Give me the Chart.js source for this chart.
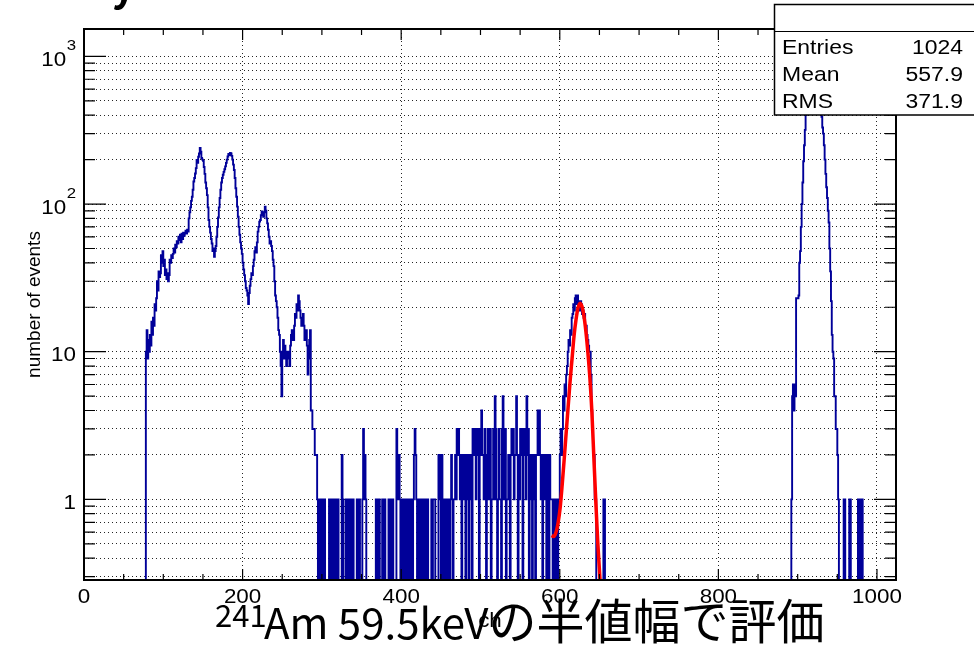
<!DOCTYPE html>
<html>
<head>
<meta charset="utf-8">
<title>241Am 59.5keV spectrum</title>
<script src="https://cdn.jsdelivr.net/npm/chart.js@4.4.1/dist/chart.umd.min.js"></script>
<style>
  html, body { margin: 0; padding: 0; background: #fff; }
  #wrap { width: 974px; height: 649px; }
</style>
</head>
<body>
<div id="wrap"><canvas id="spec" width="974" height="649"></canvas></div>
<script>
// ---------- counts per channel ----------
// low-energy structure (ch 78 .. 292)
const lowStart = 78;
const lowCounts = [
  10, 14, 9, 12, 10, 13, 11, 16, 13, 17,
  15, 21, 19, 23, 30, 26, 35, 32, 34, 45,
  40, 48, 38, 42, 33, 36, 31, 34, 30, 33,
  42, 40, 45, 43, 46, 50, 47, 53, 51, 56,
  54, 60, 57, 62, 55, 63, 58, 64, 61, 64,
  66, 63, 67, 65, 80, 88, 95, 105, 112, 125,
  142, 150, 161, 175, 199, 190, 209, 220, 240, 226,
  205, 200, 196, 178, 160, 140, 128, 115, 95, 78,
  70, 64, 58, 54, 48, 50, 44, 48, 52, 60,
  70, 81, 95, 110, 125, 140, 150, 158, 165, 172,
  180, 190, 200, 210, 218, 215, 222, 220, 212, 200,
  185, 170, 150, 128, 112, 96, 82, 70, 62, 55,
  50, 46, 40, 36, 33, 30, 27, 26, 24, 21,
  25, 28, 31, 34, 33, 38, 42, 48, 51, 47,
  55, 65, 70, 76, 78, 84, 89, 85, 82, 88,
  96, 90, 80, 74, 67, 60, 54, 56, 52, 48,
  42, 38, 30, 24, 22, 20, 17, 14, 13, 10,
  8, 5, 10, 12, 9, 11, 10, 8, 9, 10,
  9, 8, 11, 13, 14, 12, 12, 15, 18, 17,
  21, 19, 24, 22, 19, 17, 15, 16, 18, 15,
  12, 13, 14, 11, 7, 9, 12, 14, 4, 4,
  3, 3, 3, 2, 2
];
// flat background (ch 293 .. 597)
const flatStart = 293;
const flatCounts = [
  2, 1, 0, 1, 0, 1, 1, 0, 1, 0,
  1, 0, 0, 0, 0, 0, 1, 0, 1, 0,
  1, 0, 0, 1, 0, 1, 0, 1, 0, 0,
  0, 0, 2, 1, 0, 0, 0, 1, 0, 1,
  0, 1, 0, 1, 0, 1, 1, 0, 0, 0,
  0, 1, 0, 1, 1, 0, 0, 0, 1, 3,
  1, 2, 1, 0, 0, 0, 0, 0, 0, 0,
  0, 0, 0, 0, 0, 1, 0, 1, 0, 1,
  0, 0, 0, 1, 0, 1, 1, 0, 0, 0,
  0, 1, 0, 1, 0, 1, 1, 0, 0, 0,
  0, 3, 2, 1, 2, 1, 0, 0, 1, 0,
  1, 1, 0, 1, 0, 0, 1, 0, 1, 1,
  0, 0, 1, 2, 3, 2, 1, 0, 1, 0,
  0, 1, 0, 1, 1, 0, 1, 0, 1, 0,
  1, 0, 0, 0, 0, 1, 0, 1, 1, 1,
  0, 0, 0, 0, 2, 1, 2, 0, 2, 1,
  0, 1, 1, 0, 1, 0, 1, 1, 0, 1,
  2, 1, 0, 1, 1, 2, 1, 3, 2, 3,
  2, 1, 2, 0, 2, 1, 2, 2, 0, 1,
  2, 2, 0, 2, 1, 2, 0, 3, 2, 3,
  3, 1, 3, 2, 3, 0, 2, 3, 4, 2,
  2, 1, 3, 2, 0, 2, 3, 1, 1, 3,
  0, 1, 1, 3, 1, 5, 3, 1, 0, 1,
  3, 1, 1, 0, 3, 5, 1, 1, 3, 0,
  1, 1, 2, 2, 0, 2, 3, 2, 3, 1,
  2, 2, 5, 2, 0, 2, 1, 3, 2, 3,
  0, 2, 3, 2, 1, 5, 2, 3, 0, 2,
  1, 2, 0, 2, 1, 2, 0, 2, 2, 4,
  2, 4, 2, 1, 2, 0, 2, 2, 1, 2,
  0, 2, 1, 0, 2, 1, 1, 1, 0, 1,
  1, 0, 1, 1, 0
];
// 241Am 59.5 keV peak (ch 598 .. 657)
const amStart = 598;
const amCounts = [
  1, 1, 2, 3, 2, 3, 5, 4, 6, 5,
  7, 8, 10, 12, 11, 14, 13, 17, 18, 21,
  19, 23, 24, 21, 24, 20, 22, 19, 22, 21,
  18, 19, 17, 18, 14, 15, 13, 12, 11, 10,
  10, 7, 4, 3, 2, 2, 1, 1, 0, 0,
  0, 0, 0, 0, 0, 0, 0, 1, 1, 0
];
// high-channel peak (ch 892 .. 981), top hidden under the stats box
const highStart = 892;
const highCounts = [
  1, 5, 6, 4, 6, 5, 23, 23, 23, 24,
  40, 48, 70, 100, 140, 195, 250, 318, 400, 480,
  560, 650, 740, 820, 890, 950, 990, 1010, 1020, 1000,
  970, 920, 860, 780, 700, 600, 520, 440, 390, 330,
  300, 250, 200, 160, 130, 110, 90, 75, 50, 35,
  22, 13, 10, 9, 5, 5, 3, 3, 2, 1,
  0, 0, 0, 0, 0, 0, 1, 1, 0, 0,
  0, 0, 0, 1, 1, 0, 0, 0, 0, 0,
  0, 0, 0, 0, 1, 1, 0, 0, 1, 1
];

// red fit curve
const fitCh = [589.7, 592, 594, 596, 598, 600.5, 603, 605.5, 608, 610.5, 613, 615.5, 618,
  620.5, 623, 625.5, 628, 630.5, 633, 635.5, 638, 640.5, 643, 645.5, 648, 650.5, 653];
const fitValue = [0.57, 0.56, 0.575, 0.62, 0.70, 0.88, 1.25, 1.85, 2.8, 4.2, 6.3, 9.0, 12.8,
  16.5, 19.8, 21.3, 20.2, 17.4, 13.6, 9.8, 6.6, 3.9, 1.9, 0.95, 0.5, 0.3, 0.2];

// axes
const N_CH = 1024;
const Y_MIN = 0.2846;
const Y_MAX = 1532;
const xTickValues = [0, 200, 400, 600, 800, 1000];
const xTickLabels = ['0', '200', '400', '600', '800', '1000'];
const yTickValues = [1, 10, 100, 1000];
const yTickBase = ['1', '10', '10', '10'];
const yTickExp = ['', '', '2', '3'];

// stats box
const statNames = ['Entries', 'Mean', 'RMS'];
const statValues = ['1024', '557.9', '371.9'];

// ---------- build the histogram ----------
const bins = new Array(N_CH).fill(0);
[[lowStart, lowCounts], [flatStart, flatCounts], [amStart, amCounts], [highStart, highCounts]]
  .forEach(([s, arr]) => arr.forEach((v, i) => { bins[s + i] = v; }));

// empty bins fall below the frame, like ROOT does on a log axis
const FLOOR = 0.01;
const histPoints = bins.map((v, i) => ({ x: i, y: v > 0 ? v : FLOOR }));
histPoints.push({ x: N_CH, y: histPoints[N_CH - 1].y });

// grid at 1..9 x 10^n
const yGrid = [];
for (let e = -1; e <= 3; e++) {
  for (let m = 1; m <= 9; m++) {
    const v = m * Math.pow(10, e);
    if (v >= Y_MIN && v <= Y_MAX) yGrid.push(v);
  }
}
const isDecade = (v) => Math.abs(Math.log10(v) - Math.round(Math.log10(v))) < 1e-9;

const FONT = '"Liberation Sans", Arial, Helvetica, sans-serif';
const JP = '"Noto Sans CJK JP", "Noto Sans", sans-serif';
const SX = 1.12; // the ROOT picture is a bit wider than tall

function rootText(ctx, str, x, y, size, align) {
  ctx.save();
  ctx.font = size + 'px ' + FONT;
  ctx.textAlign = align;
  ctx.textBaseline = 'alphabetic';
  ctx.translate(x, y);
  ctx.scale(SX, 1);
  ctx.fillText(str, 0, 0);
  const w = ctx.measureText(str).width * SX;
  ctx.restore();
  return w;
}

// ---------- frame, inside ticks, labels, stats box ----------
const rootFrame = {
  id: 'rootFrame',
  afterDatasetsDraw(chart) {
    const { ctx, chartArea: a, scales: { x, y } } = chart;
    ctx.save();
    ctx.strokeStyle = '#000';
    ctx.lineWidth = 1.2;
    ctx.beginPath();
    for (let v = 0; v <= N_CH; v += 50) {
      const px = x.getPixelForValue(v);
      const len = v % 200 === 0 ? 11 : 6;
      ctx.moveTo(px, a.bottom); ctx.lineTo(px, a.bottom - len);
      ctx.moveTo(px, a.top); ctx.lineTo(px, a.top + len);
    }
    yGrid.forEach((v) => {
      const py = y.getPixelForValue(v);
      const len = isDecade(v) ? 22 : 11;
      ctx.moveTo(a.left, py); ctx.lineTo(a.left + len, py);
      ctx.moveTo(a.right, py); ctx.lineTo(a.right - len, py);
    });
    ctx.stroke();
    ctx.lineWidth = 2;
    ctx.strokeRect(a.left, a.top, a.right - a.left, a.bottom - a.top);
    ctx.restore();
  },
  afterDraw(chart) {
    const { ctx, chartArea: a, scales: { x, y } } = chart;
    ctx.save();
    ctx.fillStyle = '#000';

    // tick labels
    xTickValues.forEach((v, i) => rootText(ctx, xTickLabels[i], x.getPixelForValue(v), a.bottom + 22.5, 20, 'center'));
    yTickValues.forEach((v, i) => {
      const py = y.getPixelForValue(v);
      let right = 76;
      if (yTickExp[i]) right -= rootText(ctx, yTickExp[i], 76, py - 6, 15, 'right') + 0.5;
      rootText(ctx, yTickBase[i], right, py + 9.5, 20, 'right');
    });

    // axis titles
    rootText(ctx, 'ch', (a.left + a.right) / 2, 627, 20, 'center');
    ctx.save();
    ctx.translate(40, (a.top + a.bottom) / 2);
    ctx.rotate(-Math.PI / 2);
    ctx.font = '19px ' + FONT;
    ctx.textAlign = 'center';
    ctx.textBaseline = 'alphabetic';
    ctx.fillText('number of events', 0, 0);
    ctx.restore();

    // stats box
    ctx.fillStyle = '#fff';
    ctx.fillRect(774, 4, 210, 111);
    ctx.strokeStyle = '#000';
    ctx.lineWidth = 1.5;
    ctx.strokeRect(774.5, 4.5, 210, 110.5);
    ctx.beginPath();
    ctx.moveTo(774, 31.5); ctx.lineTo(974, 31.5);
    ctx.lineWidth = 1;
    ctx.stroke();
    ctx.fillStyle = '#000';
    statNames.forEach((name, i) => {
      const base = 54 + i * 27.2;
      rootText(ctx, name, 782, base, 20.5, 'left');
      rootText(ctx, statValues[i], 963, base, 20.5, 'right');
    });

    // slide caption over the axis
    ctx.textAlign = 'left';
    ctx.textBaseline = 'alphabetic';
    ctx.font = '31px ' + JP;
    ctx.fillText('241', 215, 627);
    ctx.font = '42px ' + JP;
    const latin = 'Am 59.5keV';
    ctx.fillText(latin, 264, 639);
    const cjkX = 264 + ctx.measureText(latin).width;
    ctx.font = '48px ' + JP;
    ctx.fillText('の半値幅で評価', cjkX, 639);

    // cut-off slide title glyph at the very top
    ctx.font = 'bold 40px ' + JP;
    ctx.fillText('y', 112, 0);
    ctx.restore();
  }
};

// ---------- chart ----------
const gridStyle = { color: 'rgba(0,0,0,0.85)', lineWidth: 1, drawTicks: false };
new Chart(document.getElementById('spec'), {
  type: 'line',
  data: {
    datasets: [
      {
        label: 'fit',
        data: fitCh.map((c, i) => ({ x: c, y: fitValue[i] })),
        borderColor: '#ff0000',
        borderWidth: 3.5,
        pointRadius: 0,
        cubicInterpolationMode: 'monotone',
        clip: 0,
        order: 0,
      },
      {
        label: 'counts',
        data: histPoints,
        stepped: true,
        borderColor: '#000099',
        borderWidth: 1.9,
        pointRadius: 0,
        clip: 0,
        order: 1,
      },
    ],
  },
  options: {
    responsive: false,
    animation: false,
    devicePixelRatio: 1,
    layout: { padding: { top: 29, right: 78, left: 0, bottom: 0 } },
    plugins: { legend: { display: false }, tooltip: { enabled: false } },
    scales: {
      x: {
        type: 'linear',
        min: 0,
        max: N_CH,
        afterBuildTicks: (s) => { s.ticks = xTickValues.map((v) => ({ value: v })); },
        afterFit: (s) => { s.height = 69; },
        ticks: { display: false },
        grid: gridStyle,
        border: { display: false, dash: [1, 3] },
      },
      y: {
        type: 'logarithmic',
        min: Y_MIN,
        max: Y_MAX,
        afterBuildTicks: (s) => { s.ticks = yGrid.map((v) => ({ value: v })); },
        afterFit: (s) => { s.width = 84; },
        ticks: { display: false },
        grid: gridStyle,
        border: { display: false, dash: [1, 3] },
      },
    },
  },
  plugins: [rootFrame],
});
</script>
</body>
</html>
